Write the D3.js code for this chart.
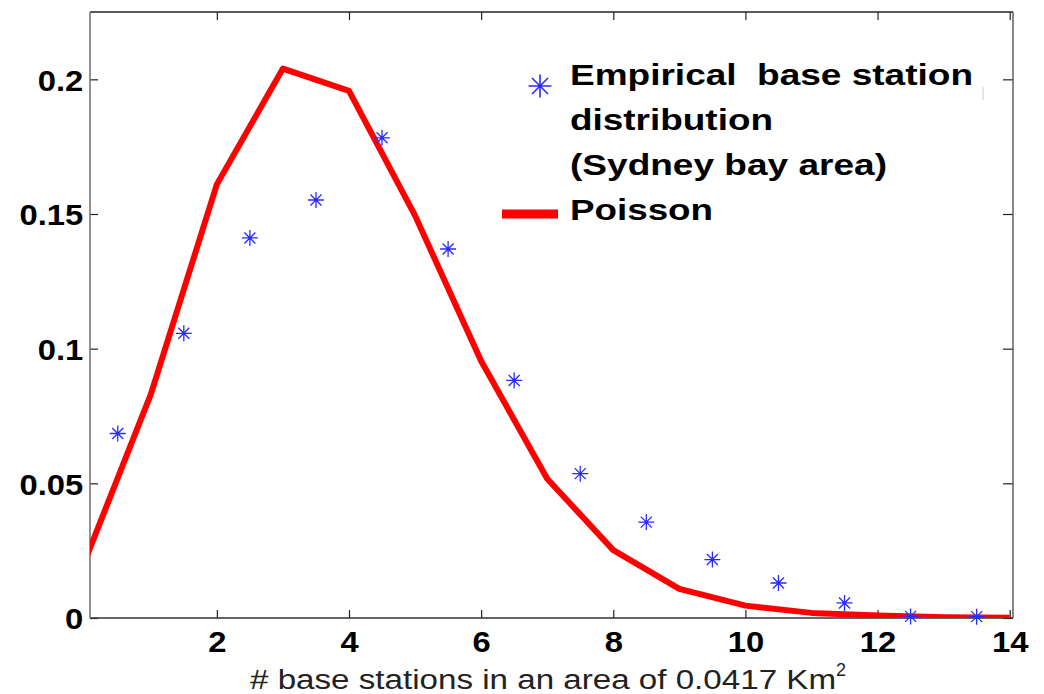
<!DOCTYPE html>
<html><head><meta charset="utf-8">
<script src="https://cdn.jsdelivr.net/npm/d3@7"></script>
<style>body{margin:0;background:#fff}svg{display:block}</style>
</head><body>
<svg id="c" width="1044" height="694"></svg>
<script>
const xTicks = [2, 4, 6, 8, 10, 12, 14];
const yTicks = [0, 0.05, 0.1, 0.15, 0.2];
const yTickLabels = ["0", "0.05", "0.1", "0.15", "0.2"];
const poissonX = [0, 1, 2, 3, 4, 5, 6, 7, 8, 9, 10, 11, 12, 13, 14];
const poissonY = [0.021, 0.083, 0.161, 0.204, 0.1957, 0.1494, 0.0954, 0.0517, 0.0252, 0.0108, 0.0046, 0.0019, 0.0009, 0.0003, 0.0001];
const empX = [0.5, 1.5, 2.5, 3.5, 4.5, 5.5, 6.5, 7.5, 8.5, 9.5, 10.5, 11.5, 12.5, 13.5];
const empY = [0.0685, 0.1057, 0.1411, 0.1552, 0.1783, 0.137, 0.0882, 0.0536, 0.0356, 0.0217, 0.013, 0.0056, 0.0006, 0.0005];
const legendLines = ["Empirical  base station", "distribution", "(Sydney bay area)"];
const legendPoisson = "Poisson";
const xLabel = "# base stations in an area of 0.0417 Km";
const xLabelSup = "2";

const W = 1044, H = 694;
const L = 90, R = 1013, T = 12, B = 618;
const svg = d3.select("#c");
const x = d3.scaleLinear().domain([0.08, 14.05]).range([L, R]);
const y = d3.scaleLinear().domain([0, 0.225]).range([B, T]);
const FONT = "'Liberation Sans', Arial, Helvetica, sans-serif";

svg.append("rect").attr("width", W).attr("height", H).attr("fill", "#fff");

svg.append("defs").append("clipPath").attr("id", "clip")
  .append("rect").attr("x", L).attr("y", T - 5).attr("width", R - L).attr("height", B - T + 5);

// Axes
const gx = svg.append("g").attr("transform", `translate(0,${B})`)
  .call(d3.axisBottom(x).tickValues(xTicks).tickSizeInner(-8).tickSizeOuter(0).tickFormat(d3.format("d")));
const gy = svg.append("g").attr("transform", `translate(${L},0)`)
  .call(d3.axisLeft(y).tickValues(yTicks).tickSizeInner(-8).tickSizeOuter(0).tickFormat((d, i) => yTickLabels[i]));
const gt = svg.append("g").attr("transform", `translate(0,${T})`)
  .call(d3.axisTop(x).tickValues(xTicks).tickSizeInner(-8).tickSizeOuter(0).tickFormat(""));
const gr = svg.append("g").attr("transform", `translate(${R},0)`)
  .call(d3.axisRight(y).tickValues(yTicks).tickSizeInner(-10).tickSizeOuter(0).tickFormat(""));

[gx, gy, gt, gr].forEach(g => {
  g.select(".domain").remove();
  g.selectAll(".tick line").attr("stroke", "#222").attr("stroke-width", 1.2);
});
gx.selectAll(".tick text")
  .attr("y", 34).attr("dy", null)
  .attr("font-family", FONT).attr("font-weight", "bold").attr("font-size", 29)
  .attr("fill", "#000").attr("transform", "scale(1.13,1)");
gy.selectAll(".tick text")
  .attr("x", -6).attr("dy", "0.37em")
  .attr("font-family", FONT).attr("font-weight", "bold").attr("font-size", 29)
  .attr("fill", "#000").attr("transform", "scale(1.13,1)");

// Box
svg.append("line").attr("x1", L).attr("x2", R).attr("y1", T).attr("y2", T).attr("stroke", "#222").attr("stroke-width", 1.3);
svg.append("line").attr("x1", L).attr("x2", R).attr("y1", B).attr("y2", B).attr("stroke", "#333").attr("stroke-width", 1.3);
svg.append("line").attr("x1", L).attr("x2", L).attr("y1", T).attr("y2", B).attr("stroke", "#777").attr("stroke-width", 1.6);
svg.append("line").attr("x1", R).attr("x2", R).attr("y1", T).attr("y2", B).attr("stroke", "#555").attr("stroke-width", 1.4);

// Poisson line
const line = d3.line().x((d, i) => x(poissonX[i])).y((d, i) => y(poissonY[i]));
svg.append("path").datum(poissonY).attr("clip-path", "url(#clip)")
  .attr("d", line).attr("fill", "none").attr("stroke", "#ff0000")
  .attr("stroke-width", 6).attr("stroke-linejoin", "round");

// Star markers
function starPath(r, d) {
  return `M${-r},0H${r}M0,${-r}V${r}M${-d},${-d}L${d},${d}M${-d},${d}L${d},${-d}`;
}
svg.append("g").selectAll("path").data(empY).join("path")
  .attr("transform", (d, i) => `translate(${x(empX[i])},${y(d)})`)
  .attr("d", starPath(8, 5.5))
  .attr("fill", "none").attr("stroke", "#2a2aff").attr("stroke-width", 1.3);

// Legend
const lg = svg.append("g");
lg.append("path").attr("transform", "translate(540,86)").attr("d", starPath(11.5, 8))
  .attr("fill", "none").attr("stroke", "#2a2aff").attr("stroke-width", 1.6);
const legendWidths = [403, 203, 317];
const legendBase = [85, 130, 175];
legendLines.forEach((t, i) => {
  lg.append("text").attr("x", 570).attr("y", legendBase[i]).text(t)
    .attr("font-family", FONT).attr("font-weight", "bold").attr("font-size", 30)
    .attr("fill", "#000").attr("textLength", legendWidths[i]).attr("lengthAdjust", "spacingAndGlyphs")
    .style("white-space", "pre");
});
lg.append("line").attr("x1", 502).attr("x2", 558).attr("y1", 214).attr("y2", 214)
  .attr("stroke", "#ff0000").attr("stroke-width", 9);
lg.append("text").attr("x", 570).attr("y", 220).text(legendPoisson)
  .attr("font-family", FONT).attr("font-weight", "bold").attr("font-size", 30)
  .attr("fill", "#000").attr("textLength", 143).attr("lengthAdjust", "spacingAndGlyphs");
lg.append("line").attr("x1", 983).attr("x2", 983).attr("y1", 87).attr("y2", 100)
  .attr("stroke", "#ccc").attr("stroke-width", 1);

// X label
svg.append("text").attr("x", 250).attr("y", 689).text(xLabel)
  .attr("font-family", FONT).attr("font-size", 27).attr("fill", "#222")
  .attr("textLength", 586).attr("lengthAdjust", "spacingAndGlyphs");
svg.append("text").attr("x", 836).attr("y", 676).text(xLabelSup)
  .attr("font-family", FONT).attr("font-size", 18).attr("fill", "#222");
</script>
</body></html>
